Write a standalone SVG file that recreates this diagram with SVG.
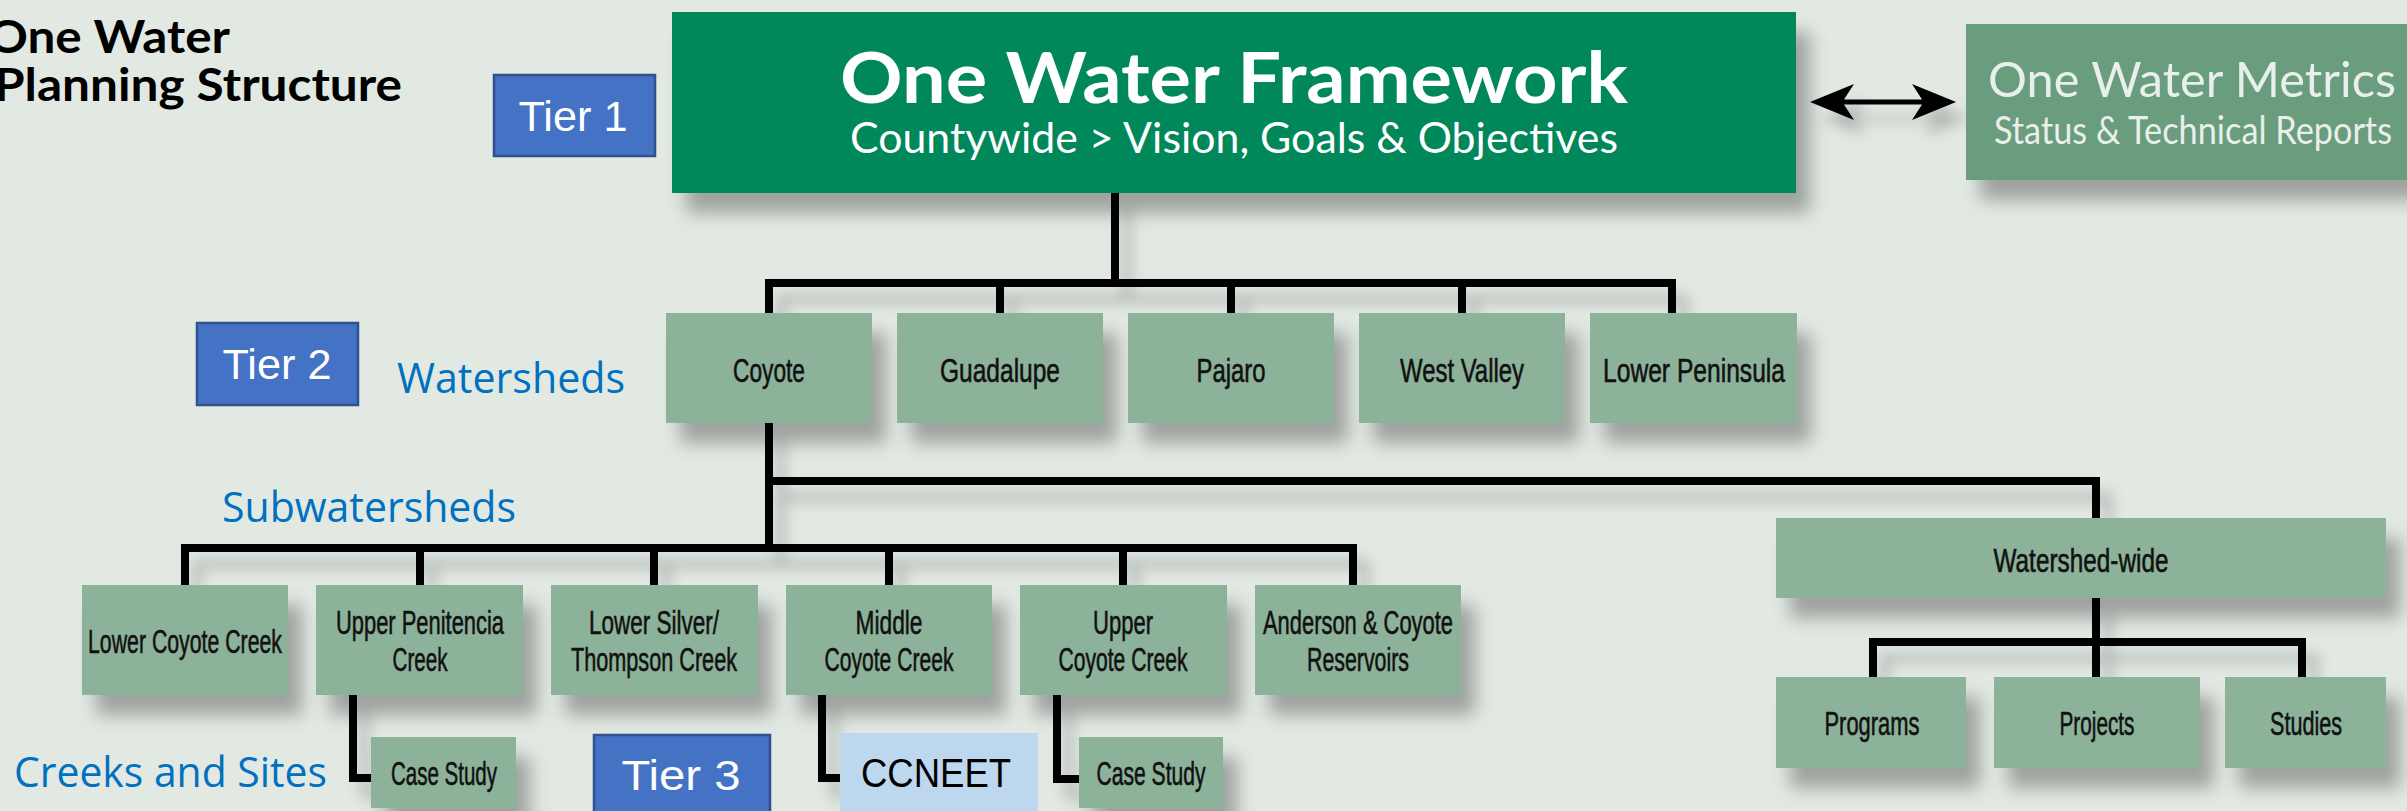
<svg xmlns="http://www.w3.org/2000/svg" width="2407" height="811" viewBox="0 0 2407 811">
<defs>
<filter id="sh" x="-20%" y="-30%" width="150%" height="180%">
<feDropShadow dx="14" dy="20" stdDeviation="9" flood-color="#000" flood-opacity="0.3"/>
</filter>
<filter id="shl" x="-5%" y="-20%" width="110%" height="160%">
<feDropShadow dx="12" dy="16" stdDeviation="7" flood-color="#000" flood-opacity="0.22"/>
</filter>
</defs>
<style>
.node{fill:#8DB29A;}
.lbl{font-family:"Liberation Sans",Arial,sans-serif;font-size:34px;fill:#111;stroke:#111;stroke-width:0.6;text-anchor:middle;}
.tier{fill:#4472C4;stroke:#2F528F;stroke-width:2.5;}
.tiert{font-family:"Liberation Sans",Arial,sans-serif;font-size:42px;fill:#fff;text-anchor:middle;}
.blue{font-family:"Open Sans","Liberation Sans",sans-serif;font-size:42px;fill:#0070C0;}
.conn{fill:none;stroke:#000;stroke-width:8;stroke-linejoin:miter;stroke-linecap:butt;}
</style>
<rect x="0" y="0" width="2407" height="811" fill="#E2E9E3"/>

<g id="title">
<text x="-12" y="53" font-family="Lato,'Liberation Sans',sans-serif" font-weight="700" font-size="46" fill="#000" textLength="242" lengthAdjust="spacingAndGlyphs">One Water</text>
<text x="-6" y="101" font-family="Lato,'Liberation Sans',sans-serif" font-weight="700" font-size="46" fill="#000" textLength="408" lengthAdjust="spacingAndGlyphs">Planning Structure</text>
</g>

<g id="connectors" filter="url(#shl)">
<path class="conn" d="M1115,193 V283"/>
<path class="conn" d="M769,313 V283 H1672 V313"/>
<path class="conn" d="M1000,283 V313 M1231,283 V313 M1462,283 V313"/>
<path class="conn" d="M769,423 V548"/>
<path class="conn" d="M769,481 H2096 V518"/>
<path class="conn" d="M185,585 V548 H1353 V585"/>
<path class="conn" d="M420,548 V585 M654,548 V585 M889,548 V585 M1123,548 V585"/>
<path class="conn" d="M353,695 V778 H371"/>
<path class="conn" d="M822,695 V778 H840"/>
<path class="conn" d="M1057,695 V779 H1079"/>
<path class="conn" d="M2096,598 V677"/>
<path class="conn" d="M1873,677 V642 H2302 V677"/>
<path d="M1810,102 L1854,84 L1844,99.5 H1922 L1912,84 L1956,102 L1912,120 L1922,104.5 H1844 L1854,120 Z" fill="#000"/>
</g>

<g id="tier1"><rect class="tier" x="494" y="75" width="161" height="81"/><text class="tiert" x="573" y="131" textLength="109" lengthAdjust="spacingAndGlyphs">Tier 1</text></g>
<g id="tier2"><rect class="tier" x="197" y="323" width="161" height="82"/><text class="tiert" x="277" y="379" textLength="109" lengthAdjust="spacingAndGlyphs">Tier 2</text></g>
<g id="tier3"><rect class="tier" x="594" y="735" width="176" height="90"/><text class="tiert" x="681" y="790" textLength="119" lengthAdjust="spacingAndGlyphs">Tier  3</text></g>

<g id="framework" filter="url(#sh)">
<rect x="672" y="12" width="1124" height="181" fill="#00875A"/>
</g>
<g id="framework-text">
<text x="1234" y="103" font-family="Lato,'Liberation Sans',sans-serif" font-weight="700" font-size="70" fill="#fff" text-anchor="middle" textLength="788" lengthAdjust="spacingAndGlyphs">One Water Framework</text>
<text x="1234" y="153" font-family="Lato,'Liberation Sans',sans-serif" font-weight="400" font-size="42" fill="#fff" text-anchor="middle" textLength="768" lengthAdjust="spacingAndGlyphs">Countywide &gt; Vision, Goals &amp; Objectives</text>
</g>

<g id="metrics">
<rect x="1966" y="24" width="470" height="156" fill="#6A9D7E" filter="url(#sh)"/>
<text x="1988" y="97" font-family="Lato,'Liberation Sans',sans-serif" font-weight="400" font-size="48" fill="#E9EFEA" textLength="408" lengthAdjust="spacingAndGlyphs">One Water Metrics</text>
<text x="1994" y="144" font-family="Lato,'Liberation Sans',sans-serif" font-weight="400" font-size="38" fill="#E9EFEA" textLength="398" lengthAdjust="spacingAndGlyphs">Status &amp; Technical Reports</text>
</g>

<g id="labels">
<text class="blue" x="397" y="393" textLength="228" lengthAdjust="spacingAndGlyphs">Watersheds</text>
<text class="blue" x="222" y="522" textLength="294" lengthAdjust="spacingAndGlyphs">Subwatersheds</text>
<text class="blue" x="14" y="787" textLength="313" lengthAdjust="spacingAndGlyphs">Creeks and Sites</text>
</g>

<g id="coyote"><rect class="node" x="666" y="313" width="206" height="110" filter="url(#sh)"/><text class="lbl" x="769" y="382" textLength="72" lengthAdjust="spacingAndGlyphs">Coyote</text></g>
<g id="guadalupe"><rect class="node" x="897" y="313" width="206" height="110" filter="url(#sh)"/><text class="lbl" x="1000" y="382" textLength="120" lengthAdjust="spacingAndGlyphs">Guadalupe</text></g>
<g id="pajaro"><rect class="node" x="1128" y="313" width="206" height="110" filter="url(#sh)"/><text class="lbl" x="1231" y="382" textLength="69" lengthAdjust="spacingAndGlyphs">Pajaro</text></g>
<g id="westvalley"><rect class="node" x="1359" y="313" width="206" height="110" filter="url(#sh)"/><text class="lbl" x="1462" y="382" textLength="124" lengthAdjust="spacingAndGlyphs">West Valley</text></g>
<g id="lowerpeninsula"><rect class="node" x="1590" y="313" width="207" height="110" filter="url(#sh)"/><text class="lbl" x="1694" y="382" textLength="182" lengthAdjust="spacingAndGlyphs">Lower Peninsula</text></g>

<g id="lowercoyote"><rect class="node" x="82" y="585" width="206" height="110" filter="url(#sh)"/><text class="lbl" x="185" y="653" textLength="194" lengthAdjust="spacingAndGlyphs">Lower Coyote Creek</text></g>
<g id="upperpenitencia"><rect class="node" x="316" y="585" width="207" height="110" filter="url(#sh)"/><text class="lbl" x="420" y="634" font-size="33" textLength="168" lengthAdjust="spacingAndGlyphs">Upper Penitencia</text><text class="lbl" x="420" y="671" font-size="33" textLength="55" lengthAdjust="spacingAndGlyphs">Creek</text></g>
<g id="lowersilver"><rect class="node" x="551" y="585" width="207" height="110" filter="url(#sh)"/><text class="lbl" x="654" y="634" font-size="33" textLength="130" lengthAdjust="spacingAndGlyphs">Lower Silver/</text><text class="lbl" x="654" y="671" font-size="33" textLength="166" lengthAdjust="spacingAndGlyphs">Thompson Creek</text></g>
<g id="middlecoyote"><rect class="node" x="786" y="585" width="206" height="110" filter="url(#sh)"/><text class="lbl" x="889" y="634" font-size="33" textLength="67" lengthAdjust="spacingAndGlyphs">Middle</text><text class="lbl" x="889" y="671" font-size="33" textLength="129" lengthAdjust="spacingAndGlyphs">Coyote Creek</text></g>
<g id="uppercoyote"><rect class="node" x="1020" y="585" width="207" height="110" filter="url(#sh)"/><text class="lbl" x="1123" y="634" font-size="33" textLength="60" lengthAdjust="spacingAndGlyphs">Upper</text><text class="lbl" x="1123" y="671" font-size="33" textLength="129" lengthAdjust="spacingAndGlyphs">Coyote Creek</text></g>
<g id="anderson"><rect class="node" x="1255" y="585" width="206" height="110" filter="url(#sh)"/><text class="lbl" x="1358" y="634" font-size="33" textLength="190" lengthAdjust="spacingAndGlyphs">Anderson &amp; Coyote</text><text class="lbl" x="1358" y="671" font-size="33" textLength="102" lengthAdjust="spacingAndGlyphs">Reservoirs</text></g>

<g id="casestudy1"><rect class="node" x="371" y="737" width="145" height="71" filter="url(#sh)"/><text class="lbl" x="444" y="785" font-size="32" textLength="106" lengthAdjust="spacingAndGlyphs">Case Study</text></g>
<g id="ccneet"><rect x="840" y="733" width="198" height="90" fill="#BDD7EE"/><text x="936" y="787" font-family="'Liberation Sans',Arial,sans-serif" font-size="40" fill="#000" text-anchor="middle" textLength="150" lengthAdjust="spacingAndGlyphs">CCNEET</text></g>
<g id="casestudy2"><rect class="node" x="1079" y="737" width="144" height="71" filter="url(#sh)"/><text class="lbl" x="1151" y="785" font-size="32" textLength="109" lengthAdjust="spacingAndGlyphs">Case Study</text></g>

<g id="watershedwide"><rect class="node" x="1776" y="518" width="610" height="80" filter="url(#sh)"/><text class="lbl" x="2081" y="572" font-size="33" textLength="175" lengthAdjust="spacingAndGlyphs">Watershed-wide</text></g>
<g id="programs"><rect class="node" x="1776" y="677" width="190" height="91" filter="url(#sh)"/><text class="lbl" x="1872" y="735" font-size="33" textLength="95" lengthAdjust="spacingAndGlyphs">Programs</text></g>
<g id="projects"><rect class="node" x="1994" y="677" width="206" height="91" filter="url(#sh)"/><text class="lbl" x="2097" y="735" font-size="33" textLength="75" lengthAdjust="spacingAndGlyphs">Projects</text></g>
<g id="studies"><rect class="node" x="2225" y="677" width="161" height="91" filter="url(#sh)"/><text class="lbl" x="2306" y="735" font-size="33" textLength="72" lengthAdjust="spacingAndGlyphs">Studies</text></g>
</svg>
